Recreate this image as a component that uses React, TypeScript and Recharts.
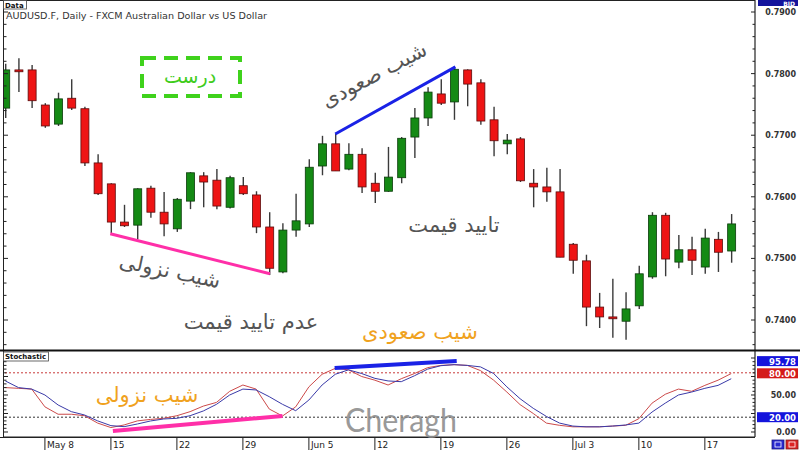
import React from 'react';
import { ComposedChart, Bar, Line, XAxis, YAxis, ReferenceLine } from 'recharts';

// ---------- data ----------
const openP = [0.7744, 0.7806, 0.7806, 0.7749, 0.7718, 0.7760, 0.7743, 0.7655, 0.7621, 0.7559,
  0.7554, 0.7614, 0.7575, 0.7548, 0.7593, 0.7634, 0.7627, 0.7583, 0.7618, 0.7603,
  0.7551, 0.7478, 0.7546, 0.7556, 0.7650, 0.7686, 0.7645, 0.7669, 0.7622, 0.7609,
  0.7631, 0.7697, 0.7728, 0.7767, 0.7754, 0.7806, 0.7785, 0.7725, 0.7686, 0.7694,
  0.7622, 0.7616, 0.7608, 0.7523, 0.7496, 0.7421, 0.7405, 0.7398, 0.7423, 0.7470,
  0.7570, 0.7494, 0.7514, 0.7486, 0.7531, 0.7512];
const highP = [0.7816, 0.7825, 0.7814, 0.7752, 0.7769, 0.7791, 0.7746, 0.7669, 0.7622, 0.7587,
  0.7614, 0.7618, 0.7608, 0.7598, 0.7640, 0.7640, 0.7645, 0.7634, 0.7632, 0.7609,
  0.7575, 0.7557, 0.7605, 0.7661, 0.7699, 0.7702, 0.7687, 0.7679, 0.7639, 0.7681,
  0.7697, 0.7744, 0.7778, 0.7791, 0.7811, 0.7807, 0.7791, 0.7746, 0.7702, 0.7697,
  0.7645, 0.7647, 0.7645, 0.7525, 0.7506, 0.7444, 0.7467, 0.7445, 0.7488, 0.7575,
  0.7574, 0.7538, 0.7535, 0.7548, 0.7543, 0.7572];
const lowP = [0.7728, 0.7770, 0.7744, 0.7712, 0.7715, 0.7741, 0.7650, 0.7603, 0.7541, 0.7551,
  0.7531, 0.7566, 0.7536, 0.7543, 0.7580, 0.7583, 0.7580, 0.7581, 0.7603, 0.7541,
  0.7473, 0.7476, 0.7535, 0.7551, 0.7635, 0.7642, 0.7643, 0.7606, 0.7590, 0.7608,
  0.7622, 0.7663, 0.7715, 0.7749, 0.7725, 0.7747, 0.7717, 0.7666, 0.7669, 0.7624,
  0.7583, 0.7592, 0.7502, 0.7475, 0.7390, 0.7387, 0.7371, 0.7368, 0.7418, 0.7467,
  0.7471, 0.7484, 0.7473, 0.7475, 0.7478, 0.7493];
const closeP = [0.7806, 0.7803, 0.7756, 0.7715, 0.7759, 0.7744, 0.7655, 0.7605, 0.7559, 0.7553,
  0.7613, 0.7575, 0.7556, 0.7596, 0.7639, 0.7624, 0.7585, 0.7631, 0.7605, 0.7551,
  0.7484, 0.7546, 0.7561, 0.7648, 0.7686, 0.7642, 0.7669, 0.7616, 0.7609, 0.7632,
  0.7695, 0.7728, 0.7770, 0.7752, 0.7807, 0.7783, 0.7723, 0.7691, 0.7692, 0.7626,
  0.7616, 0.7608, 0.7502, 0.7497, 0.7421, 0.7405, 0.7402, 0.7418, 0.7475, 0.7570,
  0.7499, 0.7514, 0.7497, 0.7533, 0.7510, 0.7556];

const stochK = [60, 59, 58, 34, 24, 24, 22, 12, 6, 9.5,
  15, 17, 18.5, 22, 27.5, 35, 40, 55, 63.5, 58,
  31, 21.6, 34, 61, 78, 86, 84, 75, 70, 63.5,
  72, 79, 87, 90, 91, 90, 83, 70, 54, 37,
  25, 12, 9, 7, 7, 7, 8, 9, 18, 39,
  51, 58, 55, 63, 70, 79];
const stochD = [69, 60, 58, 50, 36.5, 27.5, 23, 15, 8.6, 7.2,
  10.8, 14.9, 17.6, 18.5, 22, 28.4, 37.4, 50, 58, 56.8,
  47.7, 37.4, 28.8, 43.2, 63.5, 78, 84, 79, 72.5, 69,
  68, 76, 85, 89.6, 91, 90, 88, 79, 61, 45,
  32, 21, 12, 8, 7, 7, 8, 9.5, 12, 27,
  39, 50, 54, 59, 63, 72];

const weekTickIdx = [3, 8, 13, 18, 23, 28, 33, 38, 43, 48, 53];
const weekTickLabels = ['May 8', '15', '22', '29', 'Jun 5', '12', '19', '26', 'Jul 3', '10', '17'];
const priceMajorTicks = [0.74, 0.75, 0.76, 0.77, 0.78, 0.79];
const stochMajorTicks = [0, 25, 50, 75, 100];
const stochLabelledTicks = [0, 50]; // 100, 75 and 25 are hidden behind the value tags

// trend-line anchors (index, value)
const priceDownLine = [{ x: 7.95, y: 0.7540 }, { x: 20.05, y: 0.7475 }];
const priceUpLine = [{ x: 25, y: 0.7702 }, { x: 34.1, y: 0.7811 }];
const stochDownLine = [{ x: 8.15, y: 1.4 }, { x: 21.0, y: 21.6 }];
const stochUpLine = [{ x: 24.95, y: 86.5 }, { x: 34.2, y: 96 }];

// ---------- tables ----------
const candles = openP.map((o, i) => ({ i, open: o, high: highP[i], low: lowP[i], close: closeP[i] }));
const stoch = stochK.map((k, i) => ({ i, k, d: stochD[i] }));

const priceTicks: number[] = [];
for (let t = 0; t <= 28; t++) priceTicks.push(Math.round((0.736 + t * 0.002) * 10000) / 10000);
const stochTicks: number[] = [];
for (let t = 0; t <= 20; t++) stochTicks.push(t * 5);

const X_DOMAIN: [number, number] = [-0.1, 56.8];
const PLOT_LEFT = 4;
const AXIS_FONT = 'DejaVu Sans, Verdana, sans-serif';
const FA_FONT = 'DejaVu Sans, sans-serif';

const Candle = (props: any) => {
  const { x, y, width, height, payload } = props;
  if (!payload) return null;
  const { open, close, high, low } = payload;
  const yTop = Math.min(y, y + height);
  const h = Math.abs(height);
  const range = high - low;
  const toY = (v: number) => (range === 0 ? yTop : yTop + ((high - v) / range) * h);
  const cx = x + width / 2;
  const up = close >= open;
  const top = toY(Math.max(open, close));
  const bot = toY(Math.min(open, close));
  return (
    <g>
      <line x1={cx} x2={cx} y1={yTop} y2={yTop + h} stroke="#3a3a3a" strokeWidth={1.4} />
      <rect x={x} y={top} width={width} height={Math.max(bot - top, 1.6)}
        fill={up ? '#148a14' : '#ee1414'} stroke={up ? '#0b3b0b' : '#5c0c0c'} strokeWidth={0.8} />
    </g>
  );
};

const PriceTick = (props: any) => {
  const { x, y, payload } = props;
  const v = payload.value as number;
  const major = priceMajorTicks.some((m) => Math.abs(m - v) < 1e-6);
  return (
    <g>
      <line x1={x - (major ? 4 : 2.5)} x2={x} y1={y} y2={y} stroke="#222" strokeWidth={1} />
      <line x1={PLOT_LEFT} x2={PLOT_LEFT + (major ? 4 : 2.5)} y1={y} y2={y} stroke="#222" strokeWidth={1} />
      {major && (
        <text x={796} y={y + 3} textAnchor="end" fontFamily={AXIS_FONT} fontSize={8} fontWeight="bold" fill="#333">
          {v.toFixed(4)}
        </text>
      )}
    </g>
  );
};

const StochTick = (props: any) => {
  const { x, y, payload } = props;
  const v = payload.value as number;
  const major = stochMajorTicks.includes(v);
  return (
    <g>
      <line x1={x - (major ? 4 : 2.5)} x2={x} y1={y} y2={y} stroke="#222" strokeWidth={1} />
      <line x1={PLOT_LEFT} x2={PLOT_LEFT + (major ? 4 : 2.5)} y1={y} y2={y} stroke="#222" strokeWidth={1} />
      {stochLabelledTicks.includes(v) && (
        <text x={796} y={y + 3} textAnchor="end" fontFamily={AXIS_FONT} fontSize={8} fontWeight="bold" fill="#333">
          {v.toFixed(2)}
        </text>
      )}
    </g>
  );
};

const DateTick = (props: any) => {
  const { x, y, payload } = props;
  const idx = weekTickIdx.indexOf(payload.value);
  return (
    <g>
      <line x1={x} x2={x} y1={y} y2={y + 13} stroke="#222" strokeWidth={1} />
      <text x={x + 2} y={y + 10.5} fontFamily={AXIS_FONT} fontSize={9} fill="#222">
        {idx >= 0 ? weekTickLabels[idx] : ''}
      </text>
    </g>
  );
};

const makeTag = (text: string, fill: string, dy: number) => (props: any) => {
  const vb = props.viewBox || {};
  const x0 = (vb.x || 0) + (vb.width || 0) + 2;
  const y0 = (vb.y || 0) + dy;
  return (
    <g>
      <rect x={x0} y={y0 - 5} width={41} height={10} fill={fill} />
      <text x={x0 + 39} y={y0 + 3.5} textAnchor="end" fontFamily={AXIS_FONT} fontSize={8.5} fontWeight="bold" fill="#fff">
        {text}
      </text>
    </g>
  );
};

const Tag9578 = makeTag('95.78', '#1414dc', 0);
const Tag80 = makeTag('80.00', '#d41a1a', 0.5);
const Tag20 = makeTag('20.00', '#1414dc', 0);

export default function App() {
  return (
    <div style={{ position: 'absolute', left: 0, top: 0, width: 800, height: 450, background: '#fff', overflow: 'hidden' }}>
      <div style={{ position: 'absolute', left: 0, top: 0 }}>
        <ComposedChart width={800} height={350} data={candles} margin={{ top: 0, right: 0, bottom: 0, left: PLOT_LEFT }}>
          <XAxis type="number" dataKey="i" domain={X_DOMAIN} allowDataOverflow hide />
          <YAxis orientation="right" width={45} domain={[0.73513, 0.79195]} allowDataOverflow
            ticks={priceTicks} interval={0} tickSize={0} tickMargin={0} tick={<PriceTick />}
            axisLine={{ stroke: '#222', strokeWidth: 1.2 }} tickLine={false} />
          <Bar dataKey={(d: any) => [d.low, d.high]} barSize={8} shape={<Candle />} isAnimationActive={false} />
          <ReferenceLine segment={priceDownLine} stroke="#ff2fa8" strokeWidth={3} />
          <ReferenceLine segment={priceUpLine} stroke="#1a22e6" strokeWidth={3} />
        </ComposedChart>
      </div>
      <div style={{ position: 'absolute', left: 0, top: 351 }}>
        <ComposedChart width={800} height={99} data={stoch} margin={{ top: 0, right: 0, bottom: 0, left: PLOT_LEFT }}>
          <XAxis type="number" dataKey="i" domain={X_DOMAIN} allowDataOverflow ticks={weekTickIdx} interval={0}
            height={13} tickSize={0} tickMargin={0} tick={<DateTick />} axisLine={{ stroke: '#222' }} tickLine={false} />
          <YAxis orientation="right" width={45} domain={[-6.76, 109.46]} allowDataOverflow
            ticks={stochTicks} interval={0} tickSize={0} tickMargin={0} tick={<StochTick />}
            axisLine={{ stroke: '#222', strokeWidth: 1.2 }} tickLine={false} />
          <ReferenceLine y={80} stroke="#c83a3a" strokeDasharray="2 2" strokeWidth={1} label={<Tag80 />} />
          <ReferenceLine y={20} stroke="#333" strokeDasharray="2 2" strokeWidth={1} label={<Tag20 />} />
          <ReferenceLine y={95.78} stroke="none" label={<Tag9578 />} />
          <Line type="linear" dataKey="k" stroke="#cc4a4a" strokeWidth={1} dot={false} isAnimationActive={false} />
          <Line type="linear" dataKey="d" stroke="#3a3aa8" strokeWidth={1} dot={false} isAnimationActive={false} />
          <ReferenceLine segment={stochDownLine} stroke="#ff2fa8" strokeWidth={4} />
          <ReferenceLine segment={stochUpLine} stroke="#1a22e6" strokeWidth={4} />
        </ComposedChart>
      </div>

      <svg width={800} height={450} style={{ position: 'absolute', left: 0, top: 0, pointerEvents: 'none' }}>
        {/* frames */}
        <line x1={0} y1={0.5} x2={755} y2={0.5} stroke="#222" />
        <line x1={3.5} y1={0} x2={3.5} y2={437} stroke="#222" />
        <rect x={0} y={349.5} width={800} height={2} fill="#111" />
        <line x1={0} y1={437.5} x2={755} y2={437.5} stroke="#222" />

        {/* panel labels */}
        <rect x={3.5} y={0.5} width={23} height={8.5} fill="#fff" stroke="#444" strokeWidth={0.8} />
        <text x={5} y={7.5} fontFamily={AXIS_FONT} fontSize={7} fontWeight="bold" fill="#111">Data</text>
        <rect x={3.5} y={352} width={45} height={9} fill="#fff" stroke="#444" strokeWidth={0.8} />
        <text x={5} y={359.3} fontFamily={AXIS_FONT} fontSize={7} fontWeight="bold" fill="#111">Stochastic</text>
        <text x={6} y={18.5} fontFamily={AXIS_FONT} fontSize={9} fill="#333" textLength={261} lengthAdjust="spacingAndGlyphs">
          AUDUSD.F, Daily - FXCM Australian Dollar vs US Dollar
        </text>

        {/* BID tag */}
        <rect x={758} y={0} width={40} height={6} fill="#14149c" />
        <text x={795} y={5.5} textAnchor="end" fontFamily={AXIS_FONT} fontSize={6} fontWeight="bold" fill="#fff">BID</text>

        {/* bottom-right icons */}
        <rect x={772} y={440} width={12} height={9} fill="#2828d0" stroke="#1a1a80" strokeWidth={0.8} />
        <rect x={775} y={442} width={6} height={5} fill="none" stroke="#fff" strokeWidth={0.8} />
        <rect x={786} y={440} width={12} height={9} fill="#dd2222" stroke="#801a1a" strokeWidth={0.8} />
        <rect x={789} y={442} width={6} height={5} fill="none" stroke="#fff" strokeWidth={0.8} />

        {/* annotations */}
        <rect x={142} y={58} width={98} height={38} fill="none" stroke="#3fd21c" strokeWidth={4} strokeDasharray="14 8" />
        <text x={190} y={83} textAnchor="middle" fontFamily={FA_FONT} fontSize={19} fill="#3fcc1c" direction="rtl">درست</text>

        <text x={374} y={82} textAnchor="middle" fontFamily={FA_FONT} fontSize={21} fill="#555" direction="rtl"
          transform="rotate(-28 374 75)">شیب صعودی</text>
        <text x={170} y={278} textAnchor="middle" fontFamily={FA_FONT} fontSize={21} fill="#555" direction="rtl"
          transform="rotate(12 170 271)">شیب نزولی</text>
        <text x={251} y={329} textAnchor="middle" fontFamily={FA_FONT} fontSize={21} fill="#555" direction="rtl">عدم تایید قیمت</text>
        <text x={454} y={232} textAnchor="middle" fontFamily={FA_FONT} fontSize={21} fill="#555" direction="rtl">تایید قیمت</text>
        <text x={420} y={339} textAnchor="middle" fontFamily={FA_FONT} fontSize={21} fill="#f0a21e" direction="rtl">شیب صعودی</text>
        <text x={147} y={402} textAnchor="middle" fontFamily={FA_FONT} fontSize={21} fill="#f0a21e" direction="rtl">شیب نزولی</text>

        <text x={345} y={432} fontFamily="Lato, Open Sans, sans-serif" fontSize={33} fill="#888" opacity={0.85}
          textLength={112} lengthAdjust="spacingAndGlyphs">Cheragh</text>
      </svg>
    </div>
  );
}
